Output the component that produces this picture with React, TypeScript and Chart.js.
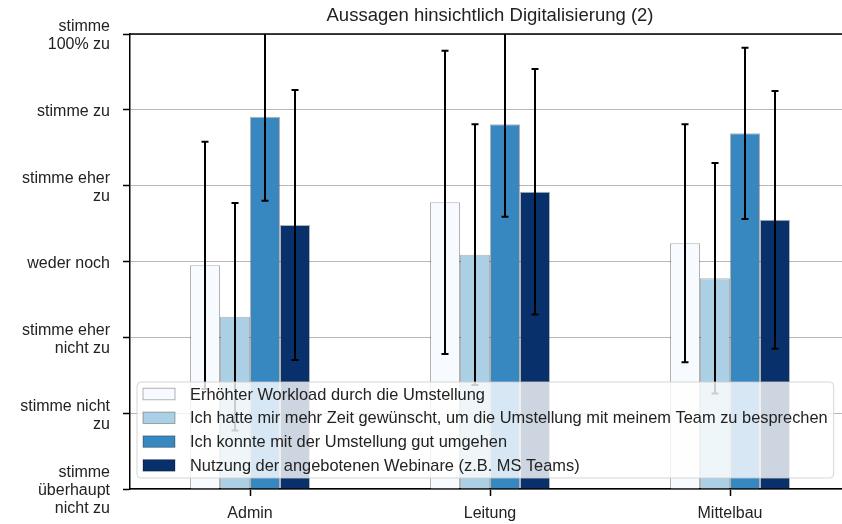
import React, { useEffect, useRef } from 'react';
import { Chart, registerables } from 'chart.js';

Chart.register(...registerables);

const FONT = '"Liberation Sans", Arial, Helvetica, sans-serif';

const chartTitle = 'Aussagen hinsichtlich Digitalisierung (2)';
const categories = ['Admin', 'Leitung', 'Mittelbau'];
const seriesLabels = [
  'Erhöhter Workload durch die Umstellung',
  'Ich hatte mir mehr Zeit gewünscht, um die Umstellung mit meinem Team zu besprechen',
  'Ich konnte mit der Umstellung gut umgehen',
  'Nutzung der angebotenen Webinare (z.B. MS Teams)',
];
const seriesColors = ['#f7fbff', '#abd0e6', '#3787c0', '#08306b'];

// mean values (1 = stimme überhaupt nicht zu ... 7 = stimme 100% zu)
const workloadMeans = [3.95, 4.78, 4.24];
const mehrZeitMeans = [3.27, 4.09, 3.78];
const umgehenMeans = [5.91, 5.81, 5.69];
const webinareMeans = [4.48, 4.92, 4.55];

// standard deviations (error bars)
const workloadSd = [1.63, 2.0, 1.57];
const mehrZeitSd = [1.5, 1.72, 1.52];
const umgehenSd = [1.11, 1.22, 1.13];
const webinareSd = [1.78, 1.62, 1.7];

const yTickValues = [1, 2, 3, 4, 5, 6, 7];
const yTickLabels: (string | string[])[] = [
  ['stimme', 'überhaupt', 'nicht zu'],
  ['stimme nicht', 'zu'],
  ['stimme eher', 'nicht zu'],
  'weder noch',
  ['stimme eher', 'zu'],
  'stimme zu',
  ['stimme', '100% zu'],
];

const seriesMeans = [workloadMeans, mehrZeitMeans, umgehenMeans, webinareMeans];
const seriesSd = [workloadSd, mehrZeitSd, umgehenSd, webinareSd];

const errorBarPlugin = {
  id: 'errorBars',
  afterDatasetsDraw(chart: any) {
    const { ctx, chartArea } = chart;
    const yScale = chart.scales.y;
    ctx.save();
    ctx.beginPath();
    ctx.rect(chartArea.left, chartArea.top, chartArea.right - chartArea.left, chartArea.bottom - chartArea.top);
    ctx.clip();
    ctx.strokeStyle = '#000';
    ctx.lineWidth = 2;
    chart.data.datasets.forEach((ds: any, di: number) => {
      const meta = chart.getDatasetMeta(di);
      meta.data.forEach((bar: any, i: number) => {
        const m = ds.data[i];
        const sd = ds.errors[i];
        const yt = yScale.getPixelForValue(m + sd);
        const yb = yScale.getPixelForValue(m - sd);
        const x = bar.x;
        ctx.beginPath();
        ctx.moveTo(x, yt);
        ctx.lineTo(x, yb);
        ctx.moveTo(x - 3.5, yt);
        ctx.lineTo(x + 3.5, yt);
        ctx.moveTo(x - 3.5, yb);
        ctx.lineTo(x + 3.5, yb);
        ctx.stroke();
      });
    });
    ctx.restore();
  },
};

const framePlugin = {
  id: 'frame',
  afterDatasetsDraw(chart: any) {
    const { ctx, chartArea } = chart;
    ctx.save();
    ctx.strokeStyle = '#000';
    ctx.lineWidth = 1.5;
    ctx.beginPath();
    ctx.moveTo(chartArea.left - 0.75, chartArea.top);
    ctx.lineTo(chartArea.right, chartArea.top);
    ctx.lineTo(chartArea.right, chartArea.bottom);
    ctx.stroke();
    ctx.restore();
  },
};

const boxLegendPlugin = {
  id: 'boxLegend',
  afterDraw(chart: any) {
    const { ctx, chartArea } = chart;
    ctx.save();
    ctx.font = '16.4px ' + FONT;
    const labels: string[] = chart.data.datasets.map((d: any) => d.label);
    const maxW = Math.max(...labels.map((l) => ctx.measureText(l).width));
    const left = chartArea.left + 7;
    const bottom = chartArea.bottom - 11;
    const height = 96;
    const top = bottom - height;
    const handleX = left + 6;
    const handleW = 32;
    const handleH = 11.5;
    const textX = handleX + handleW + 15;
    const right = textX + maxW + 6;
    const r = 4;
    ctx.beginPath();
    ctx.moveTo(left + r, top);
    ctx.lineTo(right - r, top);
    ctx.arcTo(right, top, right, top + r, r);
    ctx.lineTo(right, bottom - r);
    ctx.arcTo(right, bottom, right - r, bottom, r);
    ctx.lineTo(left + r, bottom);
    ctx.arcTo(left, bottom, left, bottom - r, r);
    ctx.lineTo(left, top + r);
    ctx.arcTo(left, top, left + r, top, r);
    ctx.closePath();
    ctx.fillStyle = 'rgba(255,255,255,0.8)';
    ctx.fill();
    ctx.strokeStyle = 'rgba(204,204,204,0.8)';
    ctx.lineWidth = 1;
    ctx.stroke();
    const rowH = 23.8;
    chart.data.datasets.forEach((ds: any, i: number) => {
      const cy = top + 12 + i * rowH;
      ctx.fillStyle = ds.backgroundColor;
      ctx.fillRect(handleX, cy - handleH / 2, handleW, handleH);
      ctx.strokeStyle = 'rgba(0,0,0,0.3)';
      ctx.lineWidth = 1;
      ctx.strokeRect(handleX, cy - handleH / 2, handleW, handleH);
      ctx.fillStyle = '#222';
      ctx.textBaseline = 'middle';
      ctx.textAlign = 'left';
      ctx.fillText(ds.label, textX, cy + 1);
    });
    ctx.restore();
  },
};

export default function App() {
  const canvasRef = useRef<HTMLCanvasElement | null>(null);

  useEffect(() => {
    if (!canvasRef.current) return;
    Chart.defaults.font.family = FONT;
    const chart = new Chart(canvasRef.current, {
      type: 'bar',
      data: {
        labels: categories,
        datasets: seriesLabels.map((label, i) => ({
          label,
          data: seriesMeans[i],
          errors: seriesSd[i],
          backgroundColor: seriesColors[i],
          borderColor: 'rgba(0,0,0,0.3)',
          borderWidth: 1,
          base: 1,
          categoryPercentage: 0.5,
          barPercentage: 1.0,
        })) as any,
      },
      options: {
        animation: false,
        responsive: false,
        devicePixelRatio: 1,
        layout: { padding: { left: 0, right: 20, top: 0, bottom: 0 } },
        plugins: {
          legend: { display: false },
          tooltip: { enabled: false },
          title: {
            display: true,
            text: chartTitle,
            fullSize: false,
            color: '#222',
            font: { size: 18.5, weight: 'normal', family: FONT, lineHeight: 1.2 },
            padding: { top: 5, bottom: 6.8 },
          },
        },
        scales: {
          x: {
            type: 'category',
            offset: true,
            grid: {
              display: true,
              offset: false,
              drawOnChartArea: false,
              drawTicks: true,
              tickLength: 7,
              tickColor: '#000',
              tickWidth: 1.5,
            },
            border: { display: true, color: '#000', width: 1.5 },
            ticks: { color: '#222', font: { size: 16, family: FONT }, padding: 8, maxRotation: 0 },
            afterFit: (scale: any) => {
              scale.height = 35;
              scale.paddingLeft = 0;
              scale.paddingRight = 0;
            },
          },
          y: {
            type: 'linear',
            min: 1,
            max: 7,
            afterBuildTicks: (scale: any) => {
              scale.ticks = yTickValues.map((v) => ({ value: v }));
            },
            grid: {
              color: '#b8b8b8',
              lineWidth: 1,
              tickLength: 7,
              tickColor: '#000',
              tickWidth: 1.5,
            },
            border: { display: true, color: '#000', width: 1.5 },
            ticks: {
              color: '#222',
              font: { size: 16, family: FONT, lineHeight: 1.12 },
              padding: 13,
              labelOffset: 2,
              callback: (value: any) => yTickLabels[yTickValues.indexOf(Number(value))] as any,
            },
            afterFit: (scale: any) => {
              scale.width = 130;
              scale.paddingTop = 0;
              scale.paddingBottom = 0;
            },
          },
        },
      } as any,
      plugins: [errorBarPlugin, framePlugin, boxLegendPlugin],
    });
    return () => chart.destroy();
  }, []);

  return (
    <div
      style={{
        position: 'fixed',
        left: 0,
        top: 0,
        width: 842,
        height: 524,
        overflow: 'hidden',
        background: '#fff',
      }}
    >
      <canvas ref={canvasRef} width={870} height={524} style={{ display: 'block', width: 870, height: 524 }} />
    </div>
  );
}
